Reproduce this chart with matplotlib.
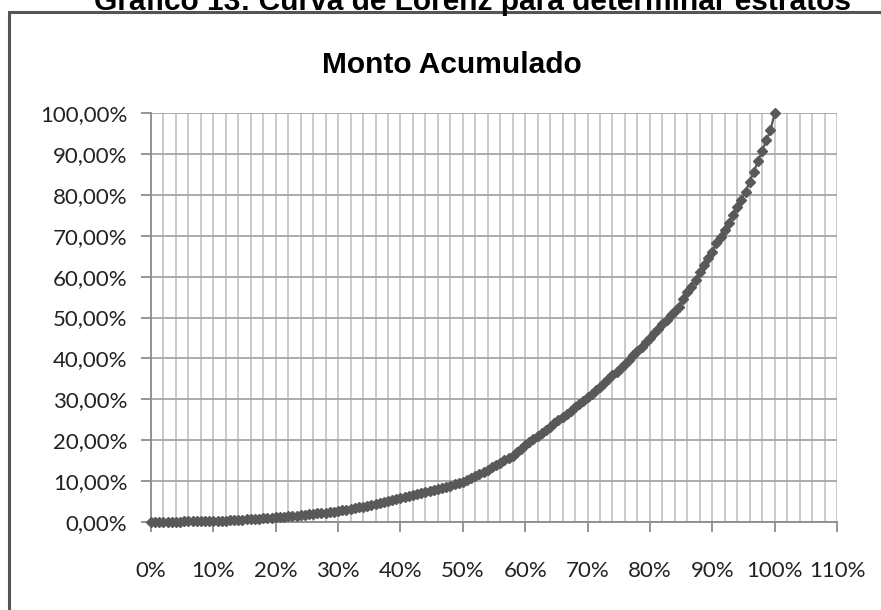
import numpy as np
import matplotlib
matplotlib.use("Agg")
from matplotlib import pyplot as plt
from matplotlib.patches import Rectangle
from matplotlib.ticker import FuncFormatter, MultipleLocator

# cumulative amount (%) for each of the 151 points of the Lorenz curve
monto_acum = [
    0.00, 0.01, 0.01, 0.02, 0.02, 0.03, 0.04, 0.04, 0.05, 0.06,
    0.07, 0.08, 0.10, 0.11, 0.13, 0.15, 0.19, 0.23, 0.27, 0.32,
    0.37, 0.42, 0.48, 0.54, 0.60, 0.66, 0.73, 0.80, 0.88, 0.96,
    1.05, 1.13, 1.22, 1.31, 1.40, 1.50, 1.60, 1.70, 1.80, 1.91,
    2.02, 2.13, 2.24, 2.36, 2.48, 2.60, 2.77, 2.95, 3.13, 3.32,
    3.51, 3.71, 3.91, 4.12, 4.33, 4.55, 4.77, 5.00, 5.23, 5.47,
    5.71, 5.96, 6.21, 6.46, 6.72, 6.98, 7.24, 7.50, 7.76, 8.03,
    8.30, 8.57, 8.85, 9.13, 9.42, 9.75, 10.25, 10.75, 11.25, 11.75,
    12.25, 12.75, 13.30, 13.85, 14.40, 15.00, 15.60, 16.20, 17.10, 17.90,
    18.80, 19.55, 20.30, 21.05, 21.80, 22.55, 23.30, 24.05, 24.80, 25.60,
    26.40, 27.20, 28.00, 28.80, 29.65, 30.50, 31.35, 32.20, 33.05, 33.95,
    34.85, 35.80, 36.75, 37.70, 38.70, 39.70, 40.70, 41.75, 42.80, 43.90,
    45.00, 46.10, 47.20, 48.30, 49.40, 50.50, 51.50, 52.60, 54.50, 56.20,
    57.50, 59.20, 61.10, 62.90, 64.50, 66.10, 68.30, 69.80, 71.40, 73.10,
    75.10, 77.10, 78.80, 80.80, 83.30, 85.70, 88.30, 90.80, 93.40, 95.90,
    100.00,
]
# cumulative share of strata: points are equally spaced from 0% to 100%
n = len(monto_acum)
cum_share = np.arange(n) / (n - 1) * 100

fig = plt.figure(figsize=(8.81, 6.10), dpi=100)
W, H = 881, 610

# outer frame of the chart (cropped screenshot: runs off right and bottom)
fig.add_artist(Rectangle((9 / W, -0.2), 1.2, 1.2 - 12 / H,
                         transform=fig.transFigure, fill=False,
                         edgecolor="#555555", linewidth=2.2))
# caption of the document, cut off at the top edge as in the screenshot
fig.text(472 / W, 1 - 10 / H, "Gráfico 13: Curva de Lorenz para determinar estratos",
         ha="center", va="baseline", fontsize=21.5, fontweight="bold",
         family=["Liberation Sans", "DejaVu Sans"], color="black")

ax = fig.add_axes([151 / W, 1 - 521.7 / H, (837 - 151) / W, (521.7 - 113.3) / H])
ax.plot(cum_share, monto_acum, color="#595959", linewidth=1.6,
        marker="D", markersize=5.0, markerfacecolor="#595959",
        markeredgecolor="#595959", zorder=3, clip_on=False)

ax.set_xlim(0, 110)
ax.set_ylim(0, 100)
ax.xaxis.set_major_locator(MultipleLocator(10))
ax.xaxis.set_minor_locator(MultipleLocator(2))
ax.yaxis.set_major_locator(MultipleLocator(10))
ax.xaxis.set_major_formatter(FuncFormatter(lambda v, p: f"{v:.0f}%"))
ax.yaxis.set_major_formatter(FuncFormatter(lambda v, p: f"{v:.2f}%".replace(".", ",")))

ax.grid(which="minor", axis="x", color="#c6c6c6", linewidth=1.3)
ax.grid(which="major", axis="x", color="#c6c6c6", linewidth=1.3)
ax.grid(which="major", axis="y", color="#a6a6a6", linewidth=1.3)
ax.set_axisbelow(True)

for s in ["top", "right"]:
    ax.spines[s].set_visible(False)
for s in ["left", "bottom"]:
    ax.spines[s].set_color("#8c8c8c")
    ax.spines[s].set_linewidth(1.3)

ax.tick_params(axis="x", which="major", length=7, width=1.3, color="#8c8c8c",
               pad=21, labelsize=16)
ax.tick_params(axis="x", which="minor", length=0)
ax.tick_params(axis="y", which="major", length=7, width=1.3, color="#8c8c8c",
               pad=10, labelsize=16)
for lab in ax.get_xticklabels() + ax.get_yticklabels():
    lab.set_family(["Lato", "DejaVu Sans"])
    lab.set_color("#222222")

fig.text(452 / W, 1 - 65 / H, "Monto Acumulado", ha="center", va="center",
         fontsize=21.5, fontweight="bold",
         family=["Liberation Sans Narrow", "Liberation Sans", "DejaVu Sans"])

fig.savefig("out.png", dpi=100)
